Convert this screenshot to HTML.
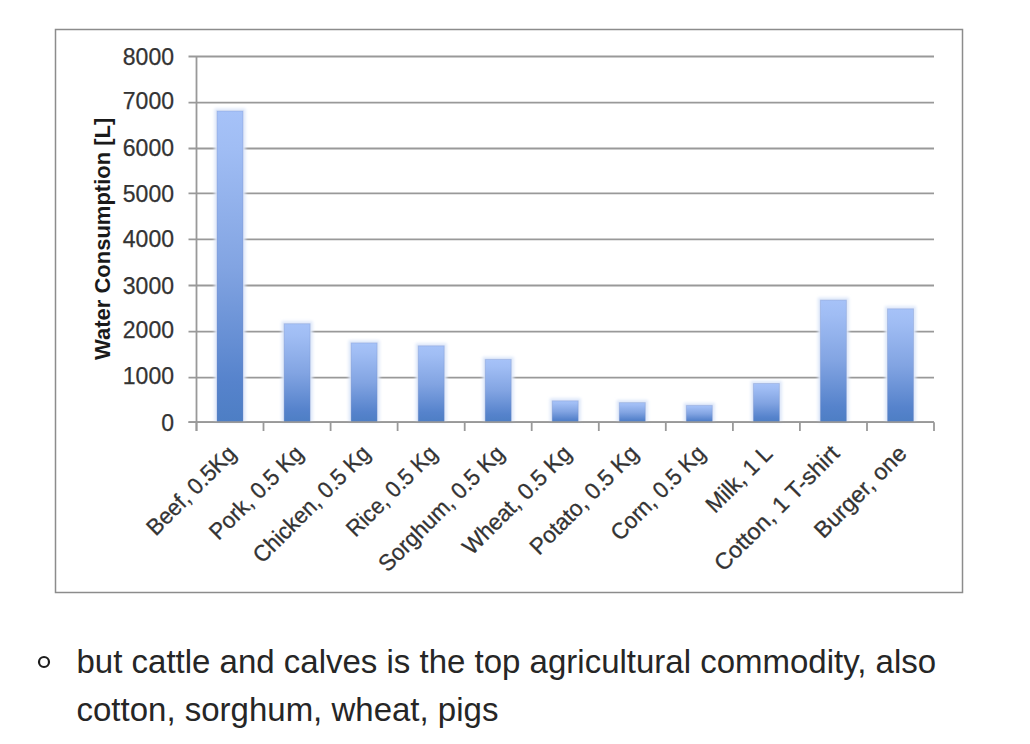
<!DOCTYPE html>
<html><head><meta charset="utf-8"><style>
html,body{margin:0;padding:0;background:#fff;width:1030px;height:744px;overflow:hidden}
svg{position:absolute;left:0;top:0}
.yl{font-family:"Liberation Sans",sans-serif;font-size:23px;fill:#333;stroke:#333;stroke-width:0.25px}
.xl{font-family:"Liberation Sans",sans-serif;font-size:23px;fill:#333;stroke:#333;stroke-width:0.3px}
.yt{font-family:"Liberation Sans",sans-serif;font-size:22px;font-weight:bold;fill:#1a1a1a}
.txt{position:absolute;left:76.5px;top:0;font-family:"Liberation Sans",sans-serif;font-size:33px;color:#262626;line-height:48px;white-space:nowrap}
</style></head><body>
<svg width="1030" height="744" viewBox="0 0 1030 744">
<defs><linearGradient id="g" x1="0" y1="0" x2="0" y2="1"><stop offset="0" stop-color="#a6c2f8"/><stop offset="0.12" stop-color="#a0bdf4"/><stop offset="0.5" stop-color="#82a4e2"/><stop offset="0.87" stop-color="#5683cc"/><stop offset="1" stop-color="#4d7ec4"/></linearGradient><filter id="hb" x="-50%" y="-10%" width="200%" height="120%"><feGaussianBlur stdDeviation="1.6"/></filter></defs>
<rect x="55.5" y="29.5" width="907" height="563" fill="#fff" stroke="#8c8c8c" stroke-width="1.5"/>
<line x1="188.5" y1="422.2" x2="934" y2="422.2" stroke="#999" stroke-width="1.8"/>
<text x="174" y="430.60" text-anchor="end" class="yl">0</text>
<line x1="188.5" y1="377.6" x2="934" y2="377.6" stroke="#999" stroke-width="1.8"/>
<text x="174" y="384.35" text-anchor="end" class="yl">1000</text>
<line x1="188.5" y1="331.6" x2="934" y2="331.6" stroke="#999" stroke-width="1.8"/>
<text x="174" y="337.95" text-anchor="end" class="yl">2000</text>
<line x1="188.5" y1="285.5" x2="934" y2="285.5" stroke="#999" stroke-width="1.8"/>
<text x="174" y="293.75" text-anchor="end" class="yl">3000</text>
<line x1="188.5" y1="239.3" x2="934" y2="239.3" stroke="#999" stroke-width="1.8"/>
<text x="174" y="247.35" text-anchor="end" class="yl">4000</text>
<line x1="188.5" y1="193.3" x2="934" y2="193.3" stroke="#999" stroke-width="1.8"/>
<text x="174" y="201.55" text-anchor="end" class="yl">5000</text>
<line x1="188.5" y1="148.5" x2="934" y2="148.5" stroke="#999" stroke-width="1.8"/>
<text x="174" y="155.55" text-anchor="end" class="yl">6000</text>
<line x1="188.5" y1="102.6" x2="934" y2="102.6" stroke="#999" stroke-width="1.8"/>
<text x="174" y="108.90" text-anchor="end" class="yl">7000</text>
<line x1="188.5" y1="56.5" x2="934" y2="56.5" stroke="#999" stroke-width="1.8"/>
<text x="174" y="64.75" text-anchor="end" class="yl">8000</text>
<line x1="196.5" y1="56.0" x2="196.5" y2="431" stroke="#999" stroke-width="1.8"/>
<line x1="196.5" y1="422.2" x2="196.5" y2="431" stroke="#999" stroke-width="1.8"/>
<line x1="263.5" y1="422.2" x2="263.5" y2="431" stroke="#999" stroke-width="1.8"/>
<line x1="330.6" y1="422.2" x2="330.6" y2="431" stroke="#999" stroke-width="1.8"/>
<line x1="397.6" y1="422.2" x2="397.6" y2="431" stroke="#999" stroke-width="1.8"/>
<line x1="464.7" y1="422.2" x2="464.7" y2="431" stroke="#999" stroke-width="1.8"/>
<line x1="531.7" y1="422.2" x2="531.7" y2="431" stroke="#999" stroke-width="1.8"/>
<line x1="598.8" y1="422.2" x2="598.8" y2="431" stroke="#999" stroke-width="1.8"/>
<line x1="665.8" y1="422.2" x2="665.8" y2="431" stroke="#999" stroke-width="1.8"/>
<line x1="732.9" y1="422.2" x2="732.9" y2="431" stroke="#999" stroke-width="1.8"/>
<line x1="799.9" y1="422.2" x2="799.9" y2="431" stroke="#999" stroke-width="1.8"/>
<line x1="867.0" y1="422.2" x2="867.0" y2="431" stroke="#999" stroke-width="1.8"/>
<line x1="934.0" y1="422.2" x2="934.0" y2="431" stroke="#999" stroke-width="1.8"/>
<rect x="214.5" y="108.5" width="31" height="313.7" fill="#dde7f9" filter="url(#hb)"/>
<rect x="217.0" y="111.0" width="26" height="311.2" fill="url(#g)" stroke="#6f88bf" stroke-opacity="0.3" stroke-width="1"/>
<rect x="281.6" y="321.2" width="31" height="101.0" fill="#dde7f9" filter="url(#hb)"/>
<rect x="284.1" y="323.7" width="26" height="98.5" fill="url(#g)" stroke="#6f88bf" stroke-opacity="0.3" stroke-width="1"/>
<rect x="348.6" y="340.4" width="31" height="81.8" fill="#dde7f9" filter="url(#hb)"/>
<rect x="351.1" y="342.9" width="26" height="79.3" fill="url(#g)" stroke="#6f88bf" stroke-opacity="0.3" stroke-width="1"/>
<rect x="415.7" y="343.3" width="31" height="78.9" fill="#dde7f9" filter="url(#hb)"/>
<rect x="418.2" y="345.8" width="26" height="76.4" fill="url(#g)" stroke="#6f88bf" stroke-opacity="0.3" stroke-width="1"/>
<rect x="482.7" y="356.9" width="31" height="65.3" fill="#dde7f9" filter="url(#hb)"/>
<rect x="485.2" y="359.4" width="26" height="62.8" fill="url(#g)" stroke="#6f88bf" stroke-opacity="0.3" stroke-width="1"/>
<rect x="549.8" y="398.3" width="31" height="23.9" fill="#dde7f9" filter="url(#hb)"/>
<rect x="552.2" y="400.8" width="26" height="21.4" fill="url(#g)" stroke="#6f88bf" stroke-opacity="0.3" stroke-width="1"/>
<rect x="616.8" y="400.1" width="31" height="22.1" fill="#dde7f9" filter="url(#hb)"/>
<rect x="619.3" y="402.6" width="26" height="19.6" fill="url(#g)" stroke="#6f88bf" stroke-opacity="0.3" stroke-width="1"/>
<rect x="683.8" y="402.9" width="31" height="19.3" fill="#dde7f9" filter="url(#hb)"/>
<rect x="686.3" y="405.4" width="26" height="16.8" fill="url(#g)" stroke="#6f88bf" stroke-opacity="0.3" stroke-width="1"/>
<rect x="750.9" y="381.0" width="31" height="41.2" fill="#dde7f9" filter="url(#hb)"/>
<rect x="753.4" y="383.5" width="26" height="38.7" fill="url(#g)" stroke="#6f88bf" stroke-opacity="0.3" stroke-width="1"/>
<rect x="817.9" y="297.6" width="31" height="124.6" fill="#dde7f9" filter="url(#hb)"/>
<rect x="820.4" y="300.1" width="26" height="122.1" fill="url(#g)" stroke="#6f88bf" stroke-opacity="0.3" stroke-width="1"/>
<rect x="885.0" y="306.3" width="31" height="115.9" fill="#dde7f9" filter="url(#hb)"/>
<rect x="887.5" y="308.8" width="26" height="113.4" fill="url(#g)" stroke="#6f88bf" stroke-opacity="0.3" stroke-width="1"/>
<line x1="188.5" y1="422.2" x2="934" y2="422.2" stroke="#999" stroke-width="1.8"/>
<text transform="translate(237.5,455) rotate(-45)" text-anchor="end" textLength="115.7" lengthAdjust="spacingAndGlyphs" class="xl">Beef, 0.5Kg</text>
<text transform="translate(304.6,455) rotate(-45)" text-anchor="end" textLength="121.6" lengthAdjust="spacingAndGlyphs" class="xl">Pork, 0.5 Kg</text>
<text transform="translate(371.6,455) rotate(-45)" text-anchor="end" textLength="154.5" lengthAdjust="spacingAndGlyphs" class="xl">Chicken, 0.5 Kg</text>
<text transform="translate(438.7,455) rotate(-45)" text-anchor="end" textLength="117.5" lengthAdjust="spacingAndGlyphs" class="xl">Rice, 0.5 Kg</text>
<text transform="translate(505.7,455) rotate(-45)" text-anchor="end" textLength="166.8" lengthAdjust="spacingAndGlyphs" class="xl">Sorghum, 0.5 Kg</text>
<text transform="translate(572.8,455) rotate(-45)" text-anchor="end" textLength="143.0" lengthAdjust="spacingAndGlyphs" class="xl">Wheat, 0.5 Kg</text>
<text transform="translate(639.8,455) rotate(-45)" text-anchor="end" textLength="142.7" lengthAdjust="spacingAndGlyphs" class="xl">Potato, 0.5 Kg</text>
<text transform="translate(706.8,455) rotate(-45)" text-anchor="end" textLength="122.9" lengthAdjust="spacingAndGlyphs" class="xl">Corn, 0.5 Kg</text>
<text transform="translate(773.9,455) rotate(-45)" text-anchor="end" textLength="83.4" lengthAdjust="spacingAndGlyphs" class="xl">Milk, 1 L</text>
<text transform="translate(840.9,455) rotate(-45)" text-anchor="end" textLength="166.2" lengthAdjust="spacingAndGlyphs" class="xl">Cotton, 1 T-shirt</text>
<text transform="translate(908.0,455) rotate(-45)" text-anchor="end" textLength="119.4" lengthAdjust="spacingAndGlyphs" class="xl">Burger, one</text>
<circle cx="44" cy="662" r="5" fill="none" stroke="#1c1c1c" stroke-width="2.2"/>
<text transform="translate(110,360) rotate(-90)" class="yt">Water Consumption [L]</text>
</svg>
<div class="txt" style="top:637.7px">but cattle and calves is the top agricultural commodity, also</div>
<div class="txt" style="top:685.7px">cotton, sorghum, wheat, pigs</div>
</body></html>
